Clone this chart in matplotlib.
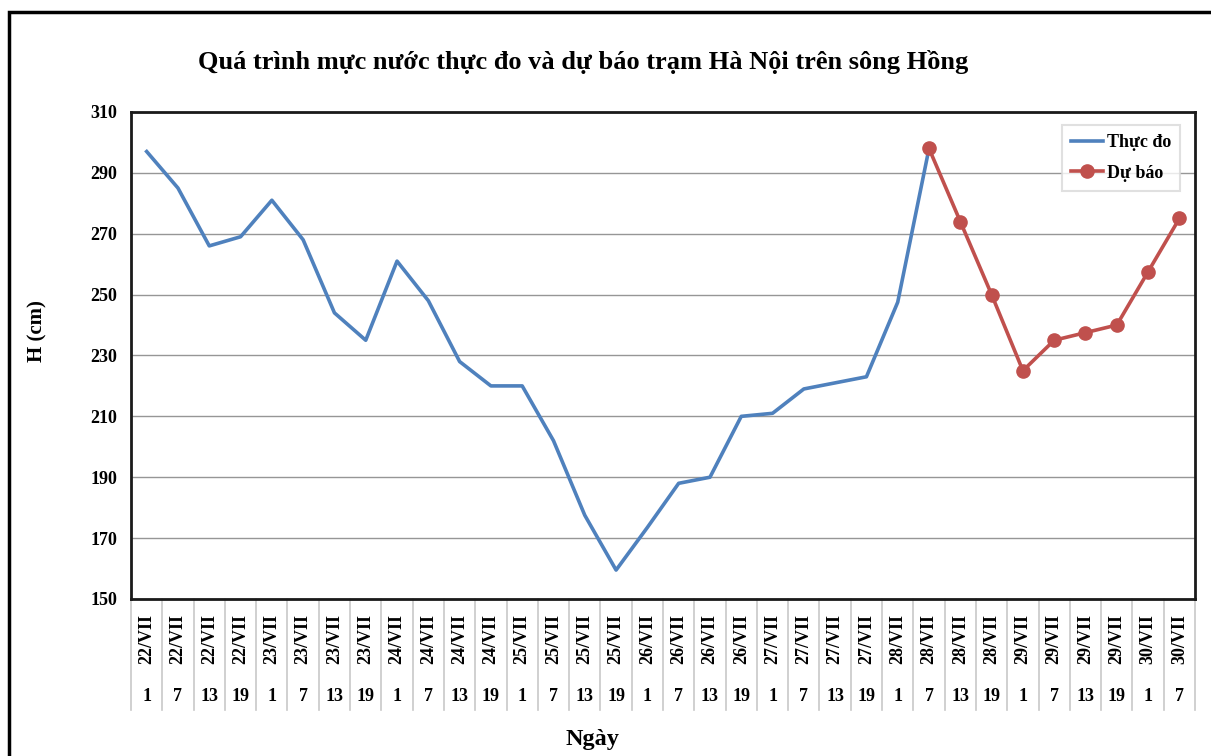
import matplotlib
matplotlib.use("Agg")
import matplotlib.pyplot as plt
from matplotlib.lines import Line2D
from matplotlib.patches import Rectangle

plt.rcParams['font.family'] = ['Liberation Serif', 'DejaVu Serif']
plt.rcParams['font.weight'] = 'bold'

# categories: day / hour
days = ["22/VII"] * 4 + ["23/VII"] * 4 + ["24/VII"] * 4 + ["25/VII"] * 4 + \
       ["26/VII"] * 4 + ["27/VII"] * 4 + ["28/VII"] * 4 + ["29/VII"] * 4 + ["30/VII"] * 2
hours = ["1", "7", "13", "19"] * 8 + ["1", "7"]

# observed water level (cm), 22/VII 1h .. 28/VII 7h
thuc_do = [297, 285, 266, 269, 281, 268, 244, 235,
           261, 248, 228, 220, 220, 202, 177.5, 159.5,
           173.5, 188, 190, 210, 211, 219, 221, 223,
           247.5, 298]
# forecast, 28/VII 7h .. 30/VII 7h
du_bao = [298, 274, 250, 225, 235, 237.5, 240, 257.5, 275]

n = len(days)
x_obs = list(range(len(thuc_do)))
x_fc = list(range(len(thuc_do) - 1, len(thuc_do) - 1 + len(du_bao)))

fig = plt.figure(figsize=(12.11, 7.56), dpi=100)
ax = fig.add_axes([0.1082, 0.2077, 0.8786, 0.6442])

# outer frame
fig.patches.append(Rectangle((9 / 1211, -0.1), 1.2, 1.1 - 12 / 756, transform=fig.transFigure,
                             fill=False, edgecolor='black', linewidth=2.5))

ax.plot(x_obs, thuc_do, color='#4F81BD', linewidth=2.6, label='Thực đo', zorder=3)
ax.plot(x_fc, du_bao, color='#C0504D', linewidth=2.6, marker='o', markersize=9.5,
        label='Dự báo', zorder=4)

ax.set_xlim(-0.5, n - 0.5)
ax.set_ylim(150, 310)
ax.set_yticks(range(150, 311, 20))
ax.tick_params(axis='y', length=0, labelsize=13, pad=10)
ax.set_xticks([])
for lbl in ax.get_yticklabels():
    lbl.set_fontweight('bold')
ax.grid(axis='y', color='#969696', linewidth=1)
ax.set_axisbelow(True)
for s in ax.spines.values():
    s.set_linewidth(2)
    s.set_color('#1a1a1a')

# table-like category axis
tr = ax.get_xaxis_transform()
for i in range(n):
    ax.text(i, -0.082, days[i], transform=tr, rotation=90, ha='center', va='center',
            fontsize=13, fontweight='bold')
    ax.text(i, -0.201, hours[i], transform=tr, ha='center', va='center',
            fontsize=13, fontweight='bold')
for i in range(n + 1):
    ax.add_line(Line2D([i - 0.5, i - 0.5], [0, -0.228], transform=tr, color='#c8c8c8',
                       linewidth=1.2, clip_on=False))

fig.text(37 / 1211, 1 - 331 / 756, 'H (cm)', rotation=90, ha='center', va='center',
         fontsize=15, fontweight='bold')
fig.text(592 / 1211, 1 - 740 / 756, 'Ngày', ha='center', va='center', fontsize=17.5, fontweight='bold')
fig.text(583 / 1211, 1 - 62 / 756, 'Quá trình mực nước thực đo và dự báo trạm Hà Nội trên sông Hồng',
         ha='center', va='center', fontsize=19, fontweight='bold')

leg = ax.legend(loc='upper right', bbox_to_anchor=(0.986, 0.973), borderaxespad=0, fontsize=13,
                frameon=True, fancybox=False, edgecolor='#d9d9d9', handlelength=1.8,
                handletextpad=0.2, borderpad=0.5, labelspacing=0.75)
leg.get_frame().set_linewidth(1.5)
for t in leg.get_texts():
    t.set_fontweight('bold')

fig.savefig('out.png', dpi=100)
